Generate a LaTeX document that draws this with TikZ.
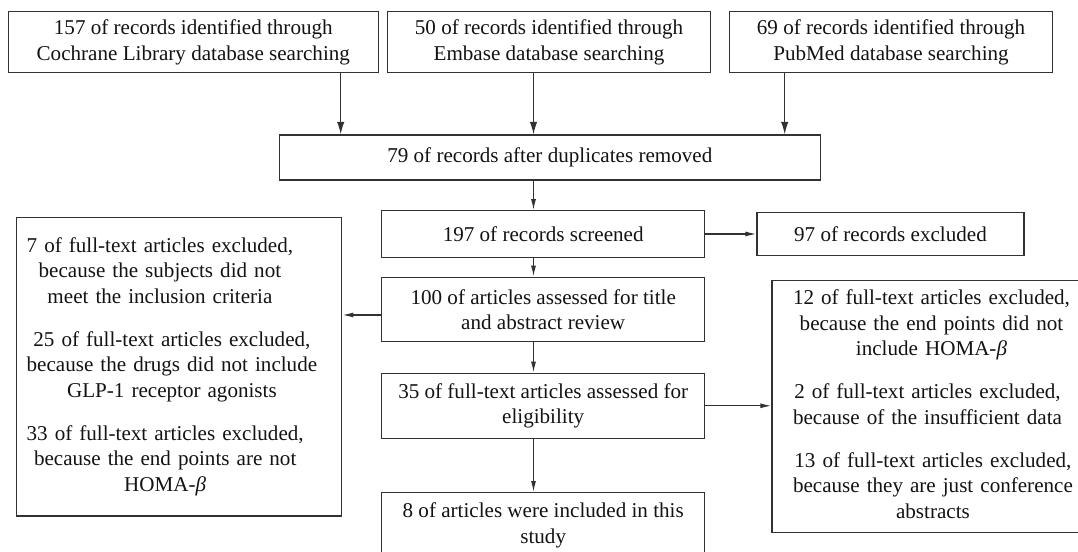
\documentclass[tikz,border=0pt]{standalone}
\usepackage{fontspec}
\setmainfont{Liberation Serif}
\usepackage{xcolor}
\definecolor{flowline}{RGB}{50,50,50}
\definecolor{flowtext}{RGB}{20,18,18}
\usetikzlibrary{arrows.meta,positioning,calc}

\begin{document}
\begin{tikzpicture}[
        flowbox/.style={rectangle, draw=flowline, line width=0.75pt, inner sep=0pt,
                        minimum width=6.46cm, minimum height=1.3cm, align=center,
                        text=flowtext, font=\fontsize{12}{14.5}\selectfont},
        srcbox/.style={flowbox, minimum height=1.22cm},
        exclbox/.style={rectangle, draw=flowline, line width=0.75pt, inner ysep=0pt,
                        align=left, text=flowtext, font=\fontsize{12}{14.5}\selectfont},
        arr/.style={-{Latex[length=0.22cm, width=0.1cm]}, line width=0.7pt, flowline},
        toparr/.style={arr, -{Latex[length=0.25cm, width=0.15cm]}}
      ]
        \useasboundingbox (0,0) rectangle (21.56,11.04);

        % search sources
        \node[srcbox, minimum width=7.40cm]  (cochrane) at (3.866,10.196) {157 of records identified through\\Cochrane Library database searching};
        \node[srcbox, minimum width=6.468cm] (embase)   at (10.98,10.196) {50 of records identified through\\Embase database searching};
        \node[srcbox, minimum width=6.452cm] (pubmed)   at (17.82,10.196) {69 of records identified through\\PubMed database searching};

        \node[flowbox, minimum width=10.82cm, minimum height=0.90cm] (dedup) at (10.996,7.89) {79 of records after duplicates removed};

        % main column
        \node[flowbox, minimum height=0.928cm] (screen) at (10.864,6.36)  {197 of records screened};
        \node[flowbox, minimum width=5.34cm, minimum height=0.868cm] (recexcl) at (17.81,6.36) {97 of records excluded};
        \node[flowbox, minimum height=1.288cm] (abstr)  at (10.864,4.85)  {100 of articles assessed for title\\and abstract review};
        \node[flowbox]                         (elig)   at (10.864,2.924) {35 of full-text articles assessed for\\eligibility};
        \node[flowbox]                         (incl)   at (10.864,0.536) {8 of articles were included in this\\study};

        % exclusion boxes
        \node[exclbox, inner xsep=0.2cm, text width=6.1cm, minimum height=5.974cm] (exclL) at (3.584,3.706)
          {\begin{tabular}{@{}c@{}}7 of full-text articles excluded,\\because the subjects did not\\meet the inclusion criteria\end{tabular}\\[9pt]
           \begin{tabular}{@{}c@{}}25 of full-text articles excluded,\\because the drugs did not include\\GLP-1 receptor agonists\end{tabular}\\[9pt]
           \begin{tabular}{@{}c@{}}33 of full-text articles excluded,\\because the end points are not\\HOMA-\textit{β}\end{tabular}};
        \node[exclbox, inner xsep=0.42cm, text width=5.52cm, minimum height=5.032cm] (exclR) at (18.62,2.91)
          {\begin{tabular}{@{}c@{}}12 of full-text articles excluded,\\because the end points did not\\include HOMA-\textit{β}\end{tabular}\\[9pt]
           \begin{tabular}{@{}c@{}}2 of full-text articles excluded,\\because of the insufficient data\end{tabular}\\[9pt]
           \begin{tabular}{@{}c@{}}13 of full-text articles excluded,\\because they are just conference\\abstracts\end{tabular}};

        \coordinate (colL) at (6.814,0);
        \coordinate (colM) at (10.67,0);
        \coordinate (colR) at (15.694,0);

        \draw[toparr] (colL |- cochrane.south) -- (colL |- dedup.north);
        \draw[toparr] (colM |- embase.south)   -- (colM |- dedup.north);
        \draw[toparr] (colR |- pubmed.south)   -- (colR |- dedup.north);

        \draw[arr] (colM |- dedup.south)  -- (colM |- screen.north);
        \draw[arr] (screen.east)          -- (recexcl.west);
        \draw[arr] (colM |- screen.south) -- (colM |- abstr.north);
        \draw[arr] ([yshift=-0.11cm]abstr.west) -- ([yshift=-0.11cm]abstr.west -| exclL.east);
        \draw[arr] (colM |- abstr.south)  -- (colM |- elig.north);
        \draw[arr] (elig.east)            -- (elig.east -| exclR.west);
        \draw[arr] (colM |- elig.south)   -- (colM |- incl.north);
\end{tikzpicture}
\end{document}
